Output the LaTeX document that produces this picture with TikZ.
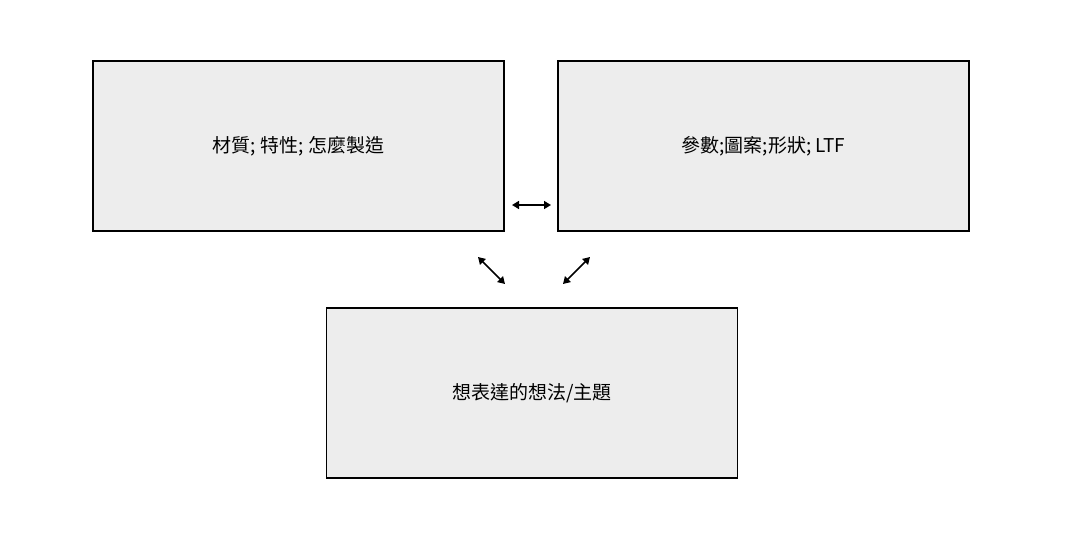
\documentclass[tikz,border=0pt]{standalone}
\usepackage{fontspec}
\setmainfont{Noto Sans CJK TC}
\usetikzlibrary{arrows.meta}
\begin{document}
\begin{tikzpicture}[x=1pt,y=-1pt,
 box/.style={draw=black,line width=1.5pt,fill=black!7,minimum width=411pt,minimum height=170pt,inner sep=0pt,font=\fontsize{19}{23}\selectfont},
 dbl/.style={{Triangle[length=7pt,width=8pt]}-{Triangle[length=7pt,width=8pt]},line width=1.6pt}]
\useasboundingbox (0,0) rectangle (1086,546);
\node[box] (a) at (298.5,146) {材質; 特性; 怎麼製造};
\node[box] (b) at (763.5,146) {參數;圖案;形狀; LTF};
\node[box] (c) at (532,393) {想表達的想法/主題};
\coordinate (h1) at (512,205); \coordinate (h2) at (551,205);
\coordinate (l1) at (478,257); \coordinate (l2) at (505,284);
\coordinate (r1) at (590,257); \coordinate (r2) at (563,284);
\draw[dbl] (h1) -- (h2);
\draw[dbl] (l1) -- (l2);
\draw[dbl] (r1) -- (r2);
\end{tikzpicture}
\end{document}
